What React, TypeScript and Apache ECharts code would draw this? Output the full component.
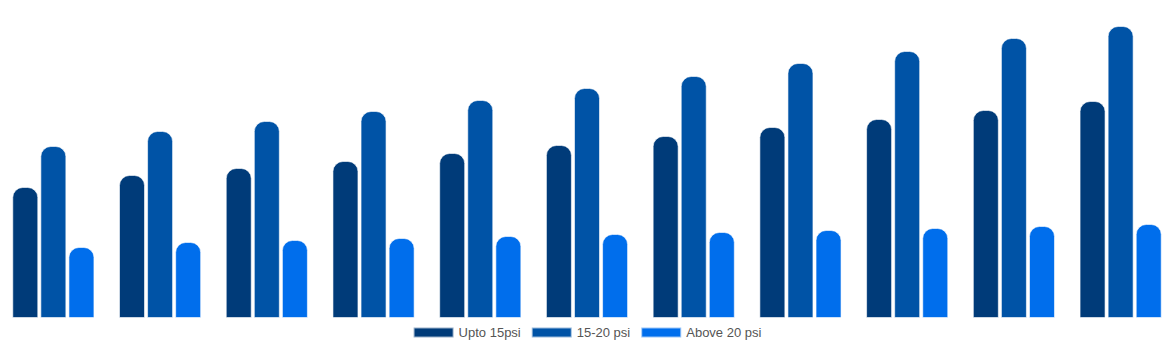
import React, { useEffect, useRef } from "react";
import * as echarts from "echarts";

const categories = ["2020", "2021", "2022", "2023", "2024", "2025", "2026", "2027", "2028", "2029", "2030"];
const seriesNames = ["Upto 15psi", "15-20 psi", "Above 20 psi"];
const upto15 = [131, 143, 150, 157, 165, 173, 182, 191, 199, 208, 217];
const from15to20 = [172, 187, 197, 207, 218, 230, 242, 255, 267, 280, 292];
const above20 = [71, 76, 78, 80, 82, 84, 86, 88, 90, 92, 94];
const colors = ["#003b79", "#0053a6", "#006eec"];

export default function App() {
  const ref = useRef<HTMLDivElement>(null);
  useEffect(() => {
    if (!ref.current) return;
    const chart = echarts.init(ref.current, null, { renderer: "svg" });
    const data = [upto15, from15to20, above20];
    chart.setOption({
      animation: false,
      grid: { left: 0, right: 0, top: 18, bottom: 32, containLabel: false },
      legend: {
        bottom: 6,
        left: "center",
        itemWidth: 40,
        itemHeight: 10,
        itemGap: 10,
        icon: "rect",
        textStyle: { fontFamily: "Liberation Sans, Arial, sans-serif", fontSize: 13, color: "#555" },
        data: seriesNames,
      },
      xAxis: {
        type: "category",
        data: categories,
        axisLine: { show: false },
        axisTick: { show: false },
        axisLabel: { show: false },
        splitLine: { show: false },
      },
      yAxis: {
        type: "value",
        min: 0,
        max: 300,
        show: false,
        splitLine: { show: false },
      },
      series: data.map((d, i) => ({
        name: seriesNames[i],
        type: "bar",
        data: d,
        barWidth: 26,
        barGap: "8%",
        itemStyle: {
          color: colors[i],
          borderRadius: [10, 10, 0, 0],
          borderColor: "rgba(255,255,255,0.6)",
          borderWidth: 1,
        },
      })),
    });
    return () => chart.dispose();
  }, []);
  return (
    <div
      ref={ref}
      style={{ position: "absolute", left: 0, top: 0, width: 1174, height: 350 }}
    />
  );
}
